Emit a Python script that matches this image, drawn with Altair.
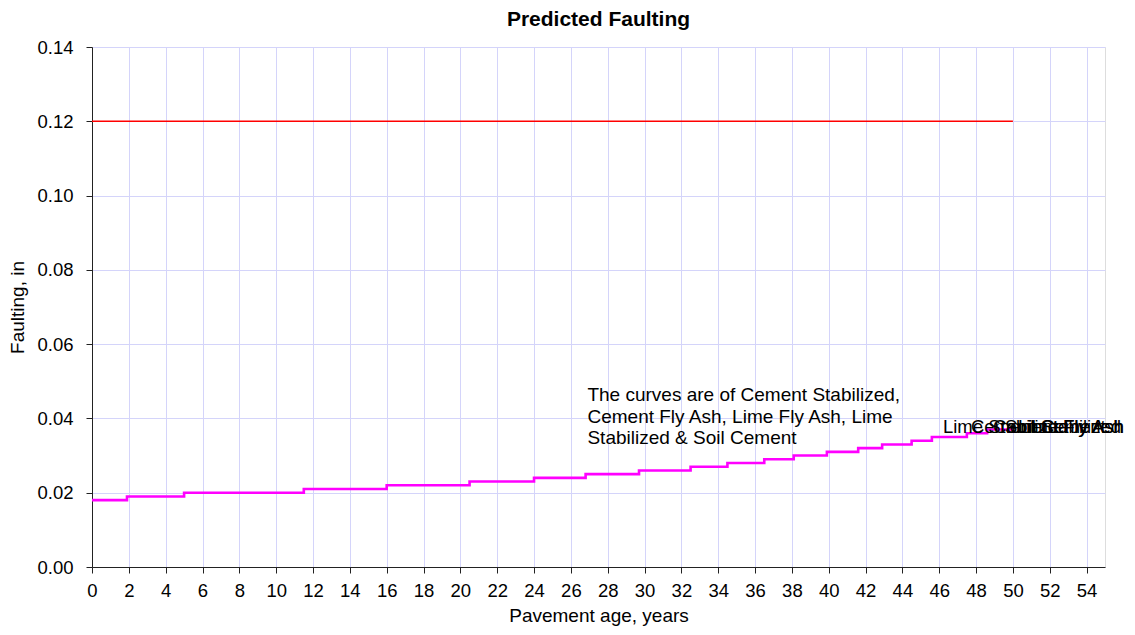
import altair as alt
import pandas as pd

# Predicted faulting curve (all five base types overlap)
step_years = [0, 1.9, 5.0, 11.5, 16.0, 20.5, 24.0, 26.8, 29.7, 32.5, 34.5, 36.5,
              38.1, 39.9, 41.6, 42.9, 44.5, 45.6, 47.5, 48.6, 50.0]
step_fault = [0.018, 0.019, 0.020, 0.021, 0.022, 0.023, 0.024, 0.025, 0.026, 0.027,
              0.028, 0.029, 0.030, 0.031, 0.032, 0.033, 0.034, 0.035, 0.036, 0.037, 0.037]

# Limit line
limit_years = [0, 50]
limit_fault = [0.12, 0.12]

# End labels of the curves
label_names = ["Lime Stabilized", "Cement Stabilized", "Cement Fly Ash", "Soil Cement", "Lime Fly Ash"]
label_years = [46.2, 47.72, 48.92, 49.57, 50.28]
label_fault = [0.0377, 0.0377, 0.0377, 0.0377, 0.0377]

note_text = ["The curves are of Cement Stabilized,", "Cement Fly Ash, Lime Fly Ash, Lime",
             "Stabilized & Soil Cement"]

x_ticks = list(range(0, 55, 2))
y_ticks = [0.0, 0.02, 0.04, 0.06, 0.08, 0.10, 0.12, 0.14]

FONT = "Liberation Sans"
FS = 18.5

curve_df = pd.DataFrame({"year": step_years, "fault": step_fault})
limit_df = pd.DataFrame({"year": limit_years, "fault": limit_fault})
label_df = pd.DataFrame({"name": label_names, "year": label_years, "fault": label_fault})
note_df = pd.DataFrame({"year": [26.9], "fault": [0.0487], "text": [note_text]})

xscale = alt.Scale(domain=[0, 55], nice=False, zero=False)
yscale = alt.Scale(domain=[0, 0.14], nice=False)

xaxis = alt.Axis(values=x_ticks, tickCount=28, title="Pavement age, years", format="d",
                 grid=True, gridColor="#d4d4fa", gridWidth=1,
                 domainColor="#222222", tickColor="#222222", tickSize=6,
                 labelFont=FONT, labelFontSize=FS, labelColor="black", labelPadding=8,
                 labelFlush=False, labelOverlap=False,
                 titleFont=FONT, titleFontSize=19, titleFontWeight="normal", titleColor="black",
                 titlePadding=7)
yaxis = alt.Axis(values=y_ticks, title="Faulting, in", format=".2f",
                 grid=True, gridColor="#d4d4fa", gridWidth=1,
                 domainColor="#222222", tickColor="#222222", tickSize=6,
                 labelFont=FONT, labelFontSize=FS, labelColor="black", labelPadding=13,
                 labelFlush=False, labelOverlap=False,
                 titleFont=FONT, titleFontSize=19, titleFontWeight="normal", titleColor="black",
                 titlePadding=9)

X = alt.X("year:Q", scale=xscale, axis=xaxis)
Y = alt.Y("fault:Q", scale=yscale, axis=yaxis)

limit = alt.Chart(limit_df).mark_line(color="#ff0000", strokeWidth=1.6).encode(x=X, y=Y)

curve = alt.Chart(curve_df).mark_line(color="#ff00ff", strokeWidth=2.6,
                                      interpolate="step-after").encode(x=X, y=Y)

labels = alt.Chart(label_df).mark_text(align="left", baseline="middle", font=FONT,
                                       fontSize=FS, color="black").encode(
    x=X, y=Y, text="name:N")

note = alt.Chart(note_df).mark_text(align="left", baseline="top", font=FONT, fontSize=19,
                                    color="black", lineHeight=21.5).encode(
    x=X, y=Y, text="text")

chart = alt.layer(limit, curve, labels, note).properties(
    width=1013, height=520,
    title=alt.TitleParams("Predicted Faulting", font=FONT, fontSize=21, fontWeight="bold",
                          color="black", anchor="middle", offset=8),
    autosize=alt.AutoSizeParams(type="none"),
    padding={"left": 84, "top": 39, "right": 22, "bottom": 60},
).configure_view(stroke="#444444", strokeWidth=1).configure(background="white")

chart.save("out.html", embed_options={"renderer": "svg", "actions": False})
